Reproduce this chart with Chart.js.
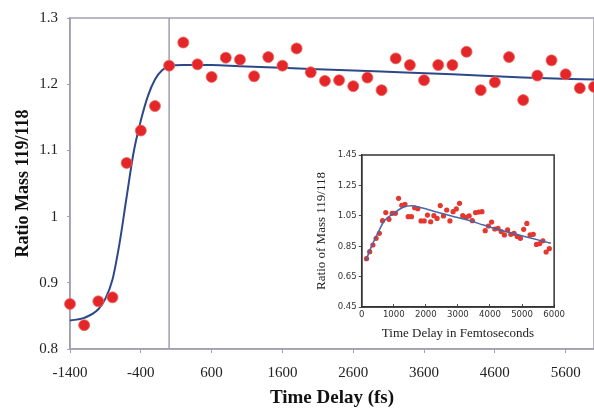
<!DOCTYPE html>
<html>
<head>
<meta charset="utf-8">
<script src="https://cdn.jsdelivr.net/npm/chart.js@4"></script>
<style>
  body { margin: 0; background: #fff; }
  #wrap { position: relative; width: 594px; height: 412px; }
  #mainChart { position: absolute; left: 0; top: 0; }
  #insetChart { position: absolute; left: 300px; top: 145px; }
</style>
</head>
<body>
<div id="wrap">
  <canvas id="mainChart" width="594" height="412"></canvas>
  <canvas id="insetChart" width="270" height="200"></canvas>
</div>
<script>
// main plot: measured points (every 200 fs)
const mainTime = [-1400, -1200, -1000, -800, -600, -400, -200, 0, 200, 400, 600, 800, 1000, 1200,
  1400, 1600, 1800, 2000, 2200, 2400, 2600, 2800, 3000, 3200, 3400, 3600, 3800, 4000, 4200,
  4400, 4600, 4800, 5000, 5200, 5400, 5600, 5800, 6000];
const mainRatio = [0.868, 0.836, 0.872, 0.878, 1.081, 1.130, 1.167, 1.228, 1.263, 1.230, 1.211,
  1.240, 1.237, 1.212, 1.241, 1.228, 1.254, 1.218, 1.205, 1.206, 1.197, 1.210, 1.191, 1.239,
  1.229, 1.206, 1.229, 1.229, 1.249, 1.191, 1.203, 1.241, 1.176, 1.213, 1.236, 1.215, 1.194, 1.196];

// main plot: fitted curve
const fitTime = [-1400, -1200, -1000, -900, -800, -700, -600, -500, -400, -300, -200, -100, 0,
  200, 600, 1000, 2000, 3000, 4000, 5000, 6000];
const fitRatio = [0.843, 0.847, 0.860, 0.876, 0.905, 0.960, 1.030, 1.098, 1.145, 1.182, 1.207,
  1.221, 1.227, 1.229, 1.229, 1.227, 1.223, 1.219, 1.215, 1.210, 1.207];

const xTicks = [-1400, -400, 600, 1600, 2600, 3600, 4600, 5600];
const yTicks = [0.8, 0.9, 1, 1.1, 1.2, 1.3];

// inset: measured points
const insetTime = [150, 250, 350, 450, 550, 650, 750, 850, 950, 1050, 1150, 1250, 1350, 1450,
  1550, 1650, 1750, 1850, 1950, 2050, 2150, 2250, 2350, 2450, 2550, 2650, 2750, 2850, 2950,
  3050, 3150, 3250, 3350, 3450, 3550, 3650, 3750, 3850, 3950, 4050, 4150, 4250, 4350, 4450,
  4550, 4650, 4750, 4850, 4950, 5050, 5150, 5250, 5350, 5450, 5550, 5650, 5750, 5850];
const insetRatio = [0.768, 0.814, 0.858, 0.902, 0.935, 1.018, 1.071, 1.027, 1.066, 1.066, 1.165,
  1.119, 1.125, 1.044, 1.044, 1.103, 1.097, 1.016, 1.016, 1.055, 1.011, 1.051, 1.033, 1.117,
  1.049, 1.088, 1.016, 1.077, 1.095, 1.132, 1.051, 1.040, 1.049, 1.018, 1.071, 1.075, 1.077,
  0.952, 0.983, 1.009, 0.963, 0.968, 0.946, 0.924, 0.957, 0.928, 0.935, 0.913, 0.902, 0.961,
  1.000, 0.924, 0.928, 0.862, 0.867, 0.886, 0.812, 0.834];

// inset: fitted curve
const insetFitTime = [130, 300, 500, 700, 1000, 1300, 1550, 1800, 2300, 2800, 3300, 3800, 4300,
  4800, 5300, 5900];
const insetFitRatio = [0.755, 0.847, 0.935, 1.016, 1.066, 1.106, 1.116, 1.106, 1.077, 1.049,
  1.022, 0.989, 0.957, 0.930, 0.902, 0.869];

const insetXTicks = [0, 1000, 2000, 3000, 4000, 5000, 6000];
const insetYTicks = [0.45, 0.65, 0.85, 1.05, 1.25, 1.45];

const serif = "'Liberation Serif', 'Times New Roman', serif";
const narrow = "'Liberation Sans Narrow', 'DejaVu Sans Condensed', 'Liberation Sans', sans-serif";

const toPoints = (xs, ys) => xs.map((x, i) => ({ x: x, y: ys[i] }));

// box round the plot area
const framePlugin = {
  id: 'frame',
  beforeDatasetsDraw(chart, args, opts) {
    const a = chart.chartArea;
    const c = chart.ctx;
    c.save();
    c.strokeStyle = opts.color;
    c.lineWidth = opts.width;
    c.strokeRect(a.left, a.top, a.right - a.left, a.bottom - a.top);
    c.restore();
  }
};

const mainCtx = document.getElementById('mainChart').getContext('2d');
new Chart(mainCtx, {
  type: 'scatter',
  data: {
    datasets: [
      {
        label: 'zero',
        type: 'line',
        data: [{ x: 0, y: 0.8 }, { x: 0, y: 1.3 }],
        borderColor: '#a19db1',
        borderWidth: 1.5,
        pointRadius: 0,
        order: 3
      },
      {
        label: 'fit',
        type: 'line',
        data: toPoints(fitTime, fitRatio),
        borderColor: '#2d4888',
        borderWidth: 2,
        pointRadius: 0,
        cubicInterpolationMode: 'monotone',
        order: 2
      },
      {
        label: 'data',
        data: toPoints(mainTime, mainRatio),
        backgroundColor: '#e4252a',
        borderColor: '#ee6a5c',
        borderWidth: 0.8,
        pointRadius: 5.5,
        clip: false,
        order: 1
      }
    ]
  },
  options: {
    responsive: false,
    animation: false,
    layout: { autoPadding: false, padding: { top: 18, right: 0, left: 0, bottom: 0 } },
    plugins: {
      legend: { display: false },
      tooltip: { enabled: false },
      frame: { color: '#a29fb2', width: 1.5 }
    },
    scales: {
      x: {
        type: 'linear',
        min: -1400,
        max: 6000,
        afterBuildTicks: (axis) => { axis.ticks = xTicks.map(v => ({ value: v })); },
        afterFit: (axis) => { axis.height = 63; },
        grid: { drawOnChartArea: false, tickLength: 4, color: '#a29fb2' },
        border: { color: '#a29fb2', width: 1.5 },
        ticks: {
          color: '#222',
          padding: 11,
          maxRotation: 0,
          font: { family: serif, size: 15 },
          callback: (v) => String(v)
        },
        title: {
          display: true,
          text: 'Time Delay (fs)',
          color: '#111',
          padding: { top: 0, bottom: 3 },
          font: { family: serif, size: 19, weight: 'bold' }
        }
      },
      y: {
        min: 0.8,
        max: 1.3,
        afterBuildTicks: (axis) => { axis.ticks = yTicks.map(v => ({ value: v })); },
        afterFit: (axis) => { axis.width = 70; },
        grid: { drawOnChartArea: false, tickLength: 3, color: '#a29fb2' },
        border: { color: '#a29fb2', width: 1.5 },
        ticks: {
          color: '#222',
          padding: 9,
          font: { family: serif, size: 15 },
          callback: (v) => String(v)
        },
        title: {
          display: true,
          text: 'Ratio Mass 119/118',
          color: '#111',
          padding: { top: 13, bottom: 0 },
          font: { family: serif, size: 18, weight: 'bold' }
        }
      }
    }
  },
  plugins: [framePlugin]
});

const insetCtx = document.getElementById('insetChart').getContext('2d');
new Chart(insetCtx, {
  type: 'scatter',
  data: {
    datasets: [
      {
        label: 'fit',
        type: 'line',
        data: toPoints(insetFitTime, insetFitRatio),
        borderColor: '#4a66a6',
        borderWidth: 1.5,
        pointRadius: 0,
        cubicInterpolationMode: 'monotone',
        order: 1
      },
      {
        label: 'data',
        data: toPoints(insetTime, insetRatio),
        backgroundColor: '#e3372f',
        borderWidth: 0,
        pointRadius: 2.6,
        order: 2
      }
    ]
  },
  options: {
    responsive: false,
    animation: false,
    layout: { autoPadding: false, padding: { top: 10, right: 10, left: 0, bottom: 0 } },
    plugins: {
      legend: { display: false },
      tooltip: { enabled: false },
      frame: { color: '#333', width: 1.5 }
    },
    scales: {
      x: {
        type: 'linear',
        min: 0,
        max: 6000,
        afterBuildTicks: (axis) => { axis.ticks = insetXTicks.map(v => ({ value: v })); },
        afterFit: (axis) => { axis.height = 38; },
        grid: { drawOnChartArea: false, tickLength: -3, color: '#555' },
        border: { color: '#333', width: 1.5 },
        ticks: {
          color: '#333',
          padding: 5,
          maxRotation: 0,
          font: { family: narrow, size: 9.5 },
          callback: (v) => String(v)
        },
        title: {
          display: true,
          text: 'Time Delay in Femtoseconds',
          color: '#222',
          padding: { top: 0, bottom: 4 },
          font: { family: serif, size: 13 }
        }
      },
      y: {
        min: 0.45,
        max: 1.45,
        afterBuildTicks: (axis) => { axis.ticks = insetYTicks.map(v => ({ value: v })); },
        afterFit: (axis) => { axis.width = 61.7; },
        grid: { drawOnChartArea: false, tickLength: 3, color: '#555' },
        border: { color: '#333', width: 1.5 },
        ticks: {
          color: '#333',
          padding: 2,
          font: { family: narrow, size: 9.5 },
          callback: (v) => String(v)
        },
        title: {
          display: true,
          text: 'Ratio of Mass 119/118',
          color: '#222',
          padding: { top: 14, bottom: 0 },
          font: { family: serif, size: 13 }
        }
      }
    }
  },
  plugins: [framePlugin]
});
</script>
</body>
</html>
